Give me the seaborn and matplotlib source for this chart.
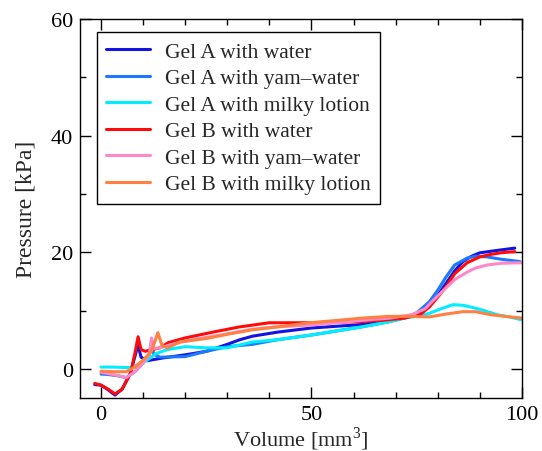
import numpy as np
import pandas as pd
import matplotlib
matplotlib.use("Agg")
import matplotlib.pyplot as plt
import seaborn as sns
from matplotlib.ticker import MultipleLocator

labels = ["Gel A with water", "Gel A with yam\u2013water", "Gel A with milky lotion",
          "Gel B with water", "Gel B with yam\u2013water", "Gel B with milky lotion"]
colors = ["#1414e0", "#1e78ff", "#00eeff", "#ff0a0a", "#ff88c8", "#ff8040"]

a_water_x = [-1.5, 0, 1.5, 3.3, 5, 7, 8, 8.8, 9.5, 11, 15, 20, 25, 30, 33, 36, 42, 50, 56, 62, 68, 72, 75.8, 78, 80, 82, 84, 86, 88, 90, 94, 98.3]
a_water_y = [-2.7, -2.8, -3.5, -4.5, -3.5, -0.7, 2.0, 4.1, 2.0, 1.4, 1.9, 2.4, 3.0, 4.2, 5.0, 5.6, 6.3, 7.0, 7.3, 7.6, 8.3, 8.7, 9.6, 11.0, 12.6, 14.7, 16.8, 18.4, 19.3, 19.9, 20.3, 20.7]

a_yam_x = [0, 2, 4, 6, 8, 10, 11.5, 12, 12.5, 14, 20, 25, 30, 36, 42, 50, 56, 62, 68.6, 72, 75, 78, 80, 82, 84, 87, 89, 91.7, 95, 99.5]
a_yam_y = [-0.9, -1.0, -1.2, -1.5, -0.5, 1.0, 2.5, 4.8, 2.5, 2.0, 2.1, 3.0, 3.8, 4.2, 5.0, 5.8, 6.5, 7.2, 8.1, 8.7, 9.6, 11.5, 13.5, 15.8, 17.8, 19.0, 19.3, 19.2, 18.8, 18.4]

a_milk_x = [0, 3, 6.9, 9, 11, 13, 15.7, 20, 25, 30, 36, 42, 50, 56, 62, 68, 72, 75, 78, 80, 83.6, 86, 88.4, 91, 94, 97, 100]
a_milk_y = [0.3, 0.3, 0.2, 0.7, 1.5, 2.6, 3.3, 3.8, 3.6, 3.6, 4.6, 5.0, 5.8, 6.5, 7.2, 8.0, 8.7, 9.0, 9.5, 10.1, 11.0, 10.9, 10.5, 10.0, 9.3, 8.9, 8.4]

b_water_x = [-1.5, 0, 1.5, 3.3, 5, 7, 8, 8.8, 9.5, 10.5, 12, 14, 16, 20, 26.6, 33, 40, 50, 56, 62, 68, 72, 75.8, 78, 80, 82, 84, 87, 90, 92.4, 95, 98.3]
b_water_y = [-2.5, -2.8, -3.4, -4.3, -3.5, -0.8, 2.5, 5.5, 3.3, 3.0, 3.3, 3.6, 4.5, 5.3, 6.3, 7.2, 7.9, 7.9, 8.0, 8.1, 8.4, 8.7, 9.3, 10.6, 12.3, 14.1, 16.3, 18.2, 19.2, 19.6, 19.9, 20.1]

b_yam_x = [0, 3, 6, 8, 10, 11.5, 12, 12.5, 14, 18.8, 25, 30, 36, 42, 49.6, 56, 62, 68.6, 74, 77, 79, 82, 84, 87, 89, 91.7, 95, 100]
b_yam_y = [-0.6, -1.0, -1.5, -0.5, 1.0, 2.5, 5.3, 3.5, 3.6, 4.6, 5.4, 6.0, 6.8, 7.2, 7.5, 7.9, 8.3, 8.7, 9.3, 10.3, 11.8, 13.9, 15.3, 16.6, 17.3, 17.8, 18.1, 18.2]

b_milk_x = [0, 3, 6, 8, 10, 12, 13.5, 14.5, 15.7, 18.8, 25, 30.6, 36, 42, 49.6, 56, 62, 68.6, 73, 78, 82, 86, 89, 92.4, 96, 100]
b_milk_y = [-0.4, -0.5, -0.5, 0.3, 1.5, 3.0, 6.2, 4.0, 3.6, 4.6, 5.2, 6.0, 6.7, 7.2, 7.9, 8.3, 8.7, 9.0, 9.0, 8.9, 9.4, 9.8, 9.8, 9.3, 9.0, 8.7]

series = [(a_water_x, a_water_y), (a_yam_x, a_yam_y), (a_milk_x, a_milk_y),
          (b_water_x, b_water_y), (b_yam_x, b_yam_y), (b_milk_x, b_milk_y)]

frames = []
for lab, (xs, ys) in zip(labels, series):
    frames.append(pd.DataFrame({"Volume": xs, "Pressure": ys, "Sample": lab}))
df = pd.concat(frames, ignore_index=True)

sns.set_style("ticks")
plt.rcParams["font.family"] = ["Liberation Serif", "DejaVu Serif"]
plt.rcParams["mathtext.fontset"] = "custom"
plt.rcParams["mathtext.rm"] = "Liberation Serif"

FS = 15.5
fig = plt.figure(figsize=(5.42, 4.52), dpi=100)
ax = fig.add_axes([0.1476, 0.1173, 0.963 - 0.1476, 0.9558 - 0.1173])

sns.lineplot(data=df, x="Volume", y="Pressure", hue="Sample", hue_order=labels,
             palette=colors, sort=False, estimator=None, units="Sample",
             linewidth=2.2, ax=ax)

ax.set_xlim(-5, 100)
ax.set_ylim(-5, 60)
ax.xaxis.set_major_locator(MultipleLocator(50))
ax.xaxis.set_minor_locator(MultipleLocator(10))
ax.yaxis.set_major_locator(MultipleLocator(20))
ax.yaxis.set_minor_locator(MultipleLocator(10))
ax.tick_params(which="both", direction="in", top=True, right=True, labelsize=16, colors="black")
ax.tick_params(which="major", length=8, width=1, pad=5)
ax.tick_params(which="minor", length=4.5, width=1)
for s in ax.spines.values():
    s.set_color("black")
    s.set_linewidth(1)
ax.set_xlabel("Volume [mm$^3$]", fontsize=16, labelpad=0)
ax.set_ylabel("Pressure [kPa]", fontsize=17, labelpad=10)

leg = ax.legend(loc="upper left", bbox_to_anchor=(0.038, 0.966), fontsize=FS, frameon=True,
                fancybox=False, edgecolor="black", framealpha=1, labelspacing=0.3,
                handlelength=2.0, handletextpad=0.7, borderpad=0.45, borderaxespad=0)
leg.get_frame().set_linewidth(1)
for line in leg.get_lines():
    line.set_linewidth(2.2)

fig.savefig("out.png", dpi=100)
